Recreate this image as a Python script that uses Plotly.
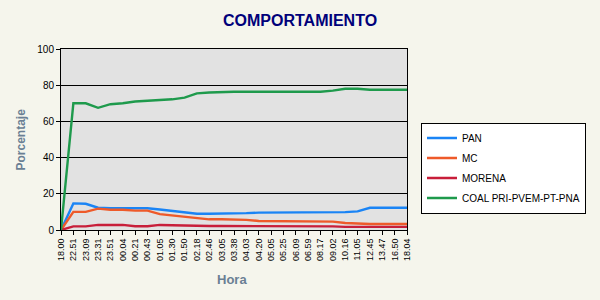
import plotly.graph_objects as go

horas = ["18.00", "22.51", "23.09", "23.31", "23.51", "00.04", "00.21", "00.43", "01.05",
         "01.30", "01.50", "02.18", "02.46", "03.05", "03.38", "04.03", "04.20", "05.05",
         "05.25", "06.09", "06.59", "08.17", "09.02", "10.16", "11.05", "12.45", "13.47",
         "16.50", "18.04"]

pan = [0, 14.7, 14.5, 12.3, 12.0, 12.0, 12.0, 12.0, 11.3, 10.6, 10.0, 9.0, 9.0, 9.0, 9.0,
       9.3, 9.6, 9.6, 9.6, 9.6, 9.6, 9.6, 9.6, 9.9, 10.3, 12.3, 12.3, 12.3, 12.3]
mc = [0, 10.0, 10.0, 11.8, 11.2, 11.2, 10.7, 10.7, 8.8, 8.0, 7.3, 6.3, 5.9, 5.9, 5.9,
      5.6, 5.0, 5.0, 5.0, 5.0, 5.0, 5.0, 4.6, 3.9, 3.5, 3.3, 3.3, 3.3, 3.3]
morena = [0, 2.0, 2.0, 2.8, 2.8, 2.8, 2.1, 2.1, 2.8, 2.6, 2.2, 2.2, 2.2, 2.2, 2.2,
          2.3, 2.4, 2.4, 2.4, 2.4, 2.4, 2.4, 2.0, 1.7, 1.7, 1.7, 1.7, 1.7, 1.7]
coal = [0, 70.0, 70.0, 67.5, 69.5, 70.0, 71.0, 71.4, 71.6, 72.2, 73.1, 75.5, 76.0, 76.4, 76.4,
        76.4, 76.4, 76.4, 76.4, 76.4, 76.4, 76.4, 77.0, 78.0, 78.0, 77.5, 77.5, 77.5, 77.5]

series = [("PAN", pan, "#1a84f5"), ("MC", mc, "#ee5a2a"),
          ("MORENA", morena, "#c81e3a"), ("COAL PRI-PVEM-PT-PNA", coal, "#1e9a4c")]

fig = go.Figure()
for name, vals, col in series:
    fig.add_trace(go.Scatter(x=horas, y=vals, name=name, mode="lines",
                             line=dict(color=col, width=2.4), legendgroup=name))

L, R, T, B = 61, 193, 49, 70
pw, ph = 600 - L - R, 300 - T - B

fig.update_layout(
    width=600, height=300,
    margin=dict(l=L, r=R, t=T, b=B, pad=0),
    paper_bgcolor="#f5f5ec",
    plot_bgcolor="#e2e2e2",
    font=dict(family="Arial, Liberation Sans, sans-serif", color="#000000"),
    showlegend=True,
    legend=dict(x=(421 - L) / pw, y=(300 - B - 122.5) / ph, xanchor="left", yanchor="top",
                bgcolor="#ffffff", bordercolor="#000000", borderwidth=1,
                font=dict(size=10, color="#000000"), tracegroupgap=1),
    xaxis=dict(type="category", range=[0, len(horas) - 1], tickangle=-90,
               tickfont=dict(size=9), ticks="outside", ticklen=4, tickcolor="#000",
               showgrid=False, showline=True, linecolor="#000", linewidth=1, mirror=True,
               zeroline=False),
    yaxis=dict(range=[0, 100], dtick=20, tickfont=dict(size=10), ticks="outside", ticklen=4,
               tickcolor="#000", showgrid=True, gridcolor="#000000", gridwidth=1,
               showline=True, linecolor="#000", linewidth=1, mirror=True, zeroline=False),
    annotations=[
        dict(text="<b>COMPORTAMIENTO</b>", xref="paper", yref="paper",
             x=(300 - L) / pw, y=(300 - B - 20) / ph, xanchor="center", yanchor="middle",
             showarrow=False, font=dict(size=16, color="#00007a")),
        dict(text="<b>Porcentaje</b>", xref="paper", yref="paper",
             x=(20 - L) / pw, y=0.5, xanchor="center", yanchor="middle", textangle=-90,
             showarrow=False, font=dict(size=12, color="#6a7f94")),
        dict(text="<b>Hora</b>", xref="paper", yref="paper",
             x=(232 - L) / pw, y=(300 - B - 279) / ph, xanchor="center", yanchor="middle",
             showarrow=False, font=dict(size=13, color="#6a7f94")),
    ],
)

fig.write_html("out.html")
